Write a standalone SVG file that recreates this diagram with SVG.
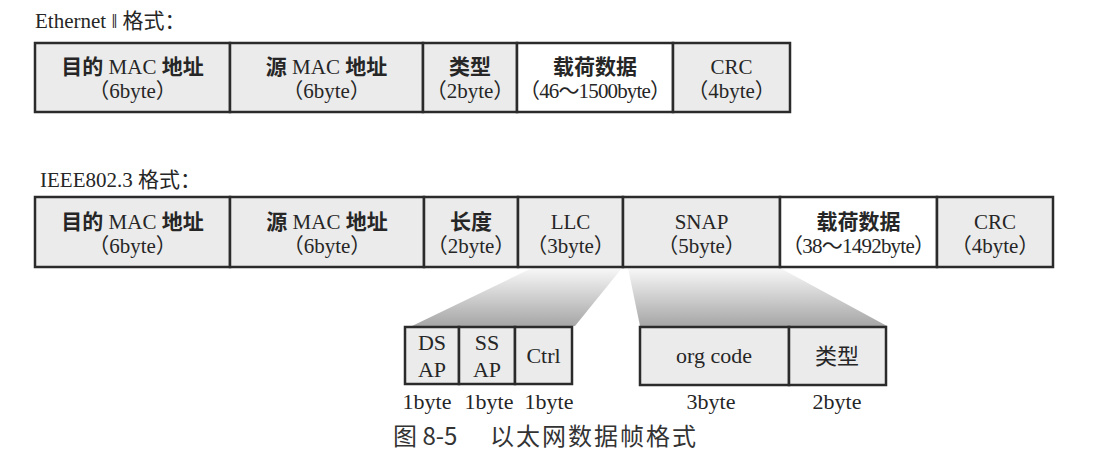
<svg xmlns="http://www.w3.org/2000/svg" width="1110" height="470" viewBox="0 0 1110 470">
<style>
  text { font-family: "Liberation Serif", "Noto Sans CJK SC", serif; font-size: 21px; fill: #262626; }
  .c { text-anchor: middle; }
  .b { font-weight: bold; }
  .s { font-size: 22px; }
  .box { fill: #ebebeb; stroke: #2b2b2b; stroke-width: 2.5; }
  .white { fill: #ffffff; stroke: #2b2b2b; stroke-width: 2.5; }
  .cap { font-family: "Noto Sans CJK SC", sans-serif; font-size: 24px; fill: #333; }
</style>
<defs>
  <linearGradient id="shade" x1="0" y1="0" x2="0" y2="1">
    <stop offset="0" stop-color="#f8f8f8"/>
    <stop offset="1" stop-color="#a6a6a6"/>
  </linearGradient>
</defs>
<rect width="1110" height="470" fill="#ffffff"/>

<g id="connectors">
  <polygon points="532,268 622,268 575,326 412,326" fill="url(#shade)"/>
  <polygon points="628,268 780,268 887,326 640,326" fill="url(#shade)"/>
</g>

<g id="eth-title"><text x="35" y="28">Ethernet ‖ 格式：</text></g>

<g id="eth-dst"><rect class="box" x="35" y="43" width="195" height="69"/>
  <text class="c" x="132.5" y="74"><tspan class="b">目的</tspan> MAC <tspan class="b">地址</tspan></text>
  <text class="c" x="132.5" y="98">（6byte）</text></g>
<g id="eth-src"><rect class="box" x="230" y="43" width="193" height="69"/>
  <text class="c" x="326.5" y="74"><tspan class="b">源</tspan> MAC <tspan class="b">地址</tspan></text>
  <text class="c" x="326.5" y="98">（6byte）</text></g>
<g id="eth-type"><rect class="box" x="423" y="43" width="94" height="69"/>
  <text class="c b" x="470" y="74">类型</text>
  <text class="c" x="470" y="98">（2byte）</text></g>
<g id="eth-payload"><rect class="white" x="517" y="43" width="156" height="69"/>
  <text class="c b" x="595" y="74">载荷数据</text>
  <text class="c" x="595" y="98" textLength="152" lengthAdjust="spacing">（46～1500byte）</text></g>
<g id="eth-crc"><rect class="box" x="673" y="43" width="117" height="69"/>
  <text class="c" x="731.5" y="74">CRC</text>
  <text class="c" x="731.5" y="98">（4byte）</text></g>

<g id="ieee-title"><text x="40" y="187">IEEE802.3 格式：</text></g>

<g id="ieee-dst"><rect class="box" x="35" y="197" width="195" height="70"/>
  <text class="c" x="132.5" y="229"><tspan class="b">目的</tspan> MAC <tspan class="b">地址</tspan></text>
  <text class="c" x="132.5" y="253">（6byte）</text></g>
<g id="ieee-src"><rect class="box" x="230" y="197" width="194" height="70"/>
  <text class="c" x="327" y="229"><tspan class="b">源</tspan> MAC <tspan class="b">地址</tspan></text>
  <text class="c" x="327" y="253">（6byte）</text></g>
<g id="ieee-len"><rect class="box" x="424" y="197" width="94" height="70"/>
  <text class="c b" x="471" y="229">长度</text>
  <text class="c" x="471" y="253">（2byte）</text></g>
<g id="ieee-llc"><rect class="box" x="518" y="197" width="105" height="70"/>
  <text class="c" x="570.5" y="229">LLC</text>
  <text class="c" x="570.5" y="253">（3byte）</text></g>
<g id="ieee-snap"><rect class="box" x="623" y="197" width="157" height="70"/>
  <text class="c" x="701.5" y="229">SNAP</text>
  <text class="c" x="701.5" y="253">（5byte）</text></g>
<g id="ieee-payload"><rect class="white" x="780" y="197" width="157" height="70"/>
  <text class="c b" x="858.5" y="229">载荷数据</text>
  <text class="c" x="858.5" y="253" textLength="153" lengthAdjust="spacing">（38～1492byte）</text></g>
<g id="ieee-crc"><rect class="box" x="937" y="197" width="116" height="70"/>
  <text class="c" x="995" y="229">CRC</text>
  <text class="c" x="995" y="253">（4byte）</text></g>

<g id="llc-dsap"><rect class="box" x="405" y="327" width="54" height="57"/>
  <text class="c s" x="432" y="350">DS</text><text class="c s" x="432" y="377">AP</text>
  <text class="c s" x="427" y="409">1byte</text></g>
<g id="llc-ssap"><rect class="box" x="459" y="327" width="56" height="57"/>
  <text class="c s" x="487" y="350">SS</text><text class="c s" x="487" y="377">AP</text>
  <text class="c s" x="489" y="409">1byte</text></g>
<g id="llc-ctrl"><rect class="box" x="515" y="327" width="57" height="57"/>
  <text class="c s" x="543.5" y="363">Ctrl</text>
  <text class="c s" x="549" y="409">1byte</text></g>

<g id="snap-org"><rect class="box" x="640" y="327" width="149" height="58"/>
  <text class="c s" x="714" y="363">org code</text>
  <text class="c s" x="711" y="409">3byte</text></g>
<g id="snap-type"><rect class="box" x="789" y="327" width="97" height="58"/>
  <text class="c s" x="837" y="364">类型</text>
  <text class="c s" x="837" y="409">2byte</text></g>

<g id="caption"><text class="cap" x="393" y="445"><tspan>图 8-5</tspan><tspan x="490" letter-spacing="2">以太网数据帧格式</tspan></text></g>
</svg>
